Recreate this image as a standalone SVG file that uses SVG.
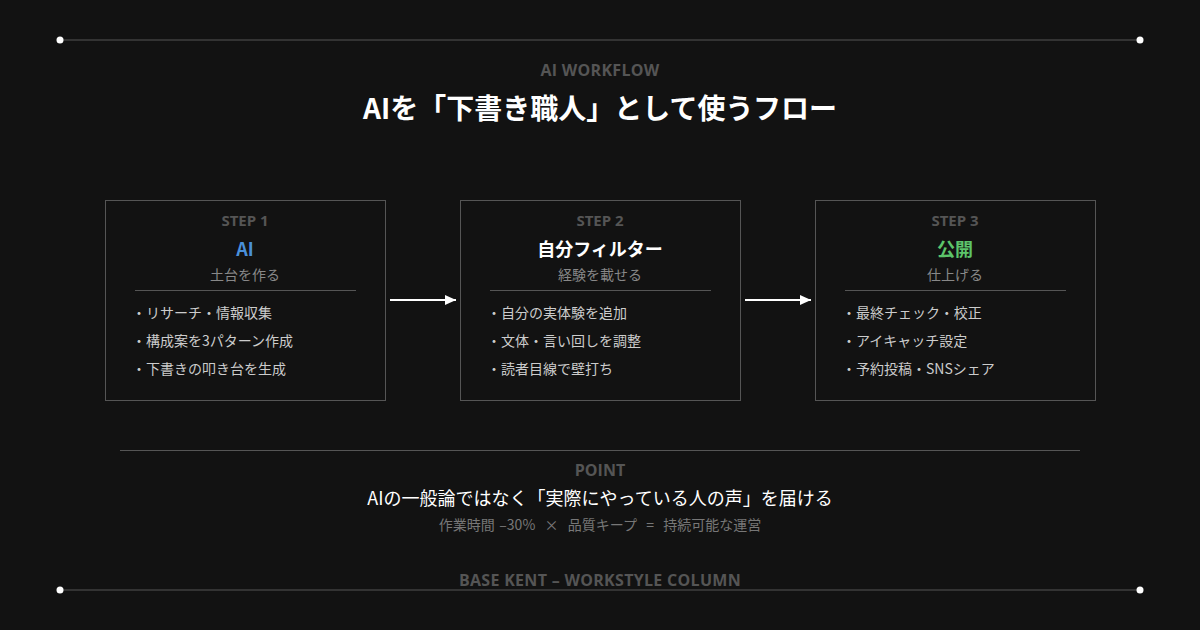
<svg xmlns="http://www.w3.org/2000/svg" width="1200" height="630" viewBox="0 0 1200 630">
<defs>
<style>
text{font-family:"Noto Sans CJK JP","Noto Sans",sans-serif;text-anchor:middle}
.lat{font-family:"Open Sans","Noto Sans CJK JP",sans-serif}
.rule{stroke:#555;stroke-width:1}
.dot{fill:#fff}
.kicker{font-size:16px;font-weight:700;fill:#555;letter-spacing:0.3px}
.title{font-size:28px;font-weight:700;fill:#fff}
.box{fill:#121212;stroke:#555;stroke-width:1}
.step{font-size:15px;font-weight:700;fill:#555}
.name{font-size:18px;font-weight:700}
.sub{font-size:14px;fill:#888}
.div{stroke:#555;stroke-width:1}
.item{font-size:14px;fill:#ccc;text-anchor:start}
.conn{stroke:#fff;stroke-width:2;fill:none}
.pt{font-size:16px;font-weight:700;fill:#555}
.msg{font-size:18px;fill:#fff}
.note{font-size:14px;fill:#777;word-spacing:1.5px}
</style>
<marker id="ah" viewBox="0 0 11 10" refX="11" refY="5" markerWidth="11" markerHeight="10" markerUnits="userSpaceOnUse" orient="auto"><path d="M0,0 L11,5 L0,10 z" fill="#fff"/></marker>
</defs>
<rect width="1200" height="630" fill="#121212"/>
<g id="frame">
<line class="rule" x1="60" y1="40" x2="1140" y2="40"/>
<circle class="dot" cx="60" cy="40" r="3.5"/>
<circle class="dot" cx="1140" cy="40" r="3.5"/>
<line class="rule" x1="60" y1="590" x2="1140" y2="590"/>
<circle class="dot" cx="60" cy="590" r="3.5"/>
<circle class="dot" cx="1140" cy="590" r="3.5"/>
</g>
<g id="header">
<text class="kicker lat" x="600" y="76">AI WORKFLOW</text>
<text class="title" x="600" y="119">AIを「下書き職人」として使うフロー</text>
</g>
<g id="step1">
<rect class="box" x="105.5" y="200.5" width="280" height="200"/>
<text class="step lat" x="245" y="226">STEP 1</text>
<text class="name" x="245" y="256" fill="#4a90d9">AI</text>
<text class="sub" x="245" y="280">土台を作る</text>
<line class="div" x1="135" y1="290.5" x2="356" y2="290.5"/>
<text class="item" x="132" y="318">・リサーチ・情報収集</text>
<text class="item" x="132" y="346">・構成案を3パターン作成</text>
<text class="item" x="132" y="374">・下書きの叩き台を生成</text>
</g>
<g id="step2">
<rect class="box" x="460.5" y="200.5" width="280" height="200"/>
<text class="step lat" x="600" y="226">STEP 2</text>
<text class="name" x="600" y="256" fill="#fff">自分フィルター</text>
<text class="sub" x="600" y="280">経験を載せる</text>
<line class="div" x1="490" y1="290.5" x2="711" y2="290.5"/>
<text class="item" x="487" y="318">・自分の実体験を追加</text>
<text class="item" x="487" y="346">・文体・言い回しを調整</text>
<text class="item" x="487" y="374">・読者目線で壁打ち</text>
</g>
<g id="step3">
<rect class="box" x="815.5" y="200.5" width="280" height="200"/>
<text class="step lat" x="955" y="226">STEP 3</text>
<text class="name" x="955" y="256" fill="#5cc46a">公開</text>
<text class="sub" x="955" y="280">仕上げる</text>
<line class="div" x1="845" y1="290.5" x2="1066" y2="290.5"/>
<text class="item" x="842" y="318">・最終チェック・校正</text>
<text class="item" x="842" y="346">・アイキャッチ設定</text>
<text class="item" x="842" y="374">・予約投稿・SNSシェア</text>
</g>
<g id="connectors">
<line class="conn" x1="390" y1="300" x2="456" y2="300" marker-end="url(#ah)"/>
<line class="conn" x1="745" y1="300" x2="811" y2="300" marker-end="url(#ah)"/>
</g>
<g id="point">
<line class="rule" x1="120" y1="450.5" x2="1080" y2="450.5"/>
<text class="pt lat" x="600" y="476">POINT</text>
<text class="msg" x="600" y="505">AIの一般論ではなく「実際にやっている人の声」を届ける</text>
<text class="note" x="600" y="530" xml:space="preserve">作業時間 –30%  ×  品質キープ  =  持続可能な運営</text>
</g>
<g id="footer">
<text class="kicker lat" x="600" y="586">BASE KENT – WORKSTYLE COLUMN</text>
</g>
</svg>
